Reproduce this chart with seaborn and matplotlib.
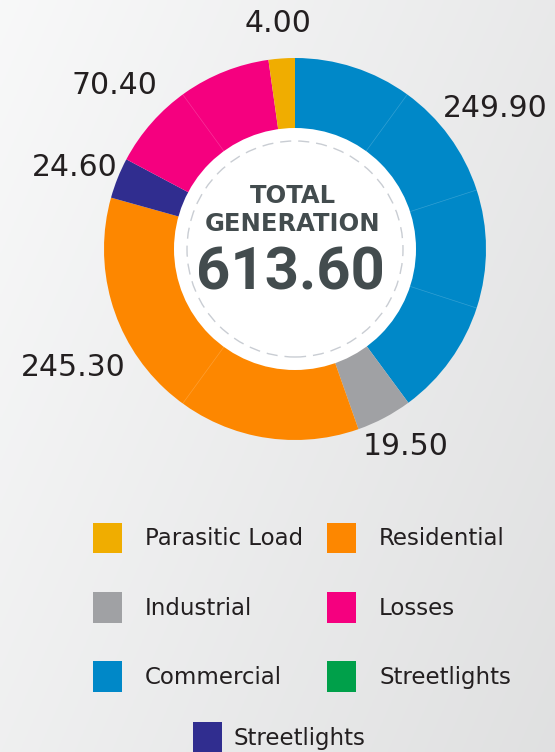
import numpy as np
import pandas as pd
import matplotlib
matplotlib.use("Agg")
import matplotlib.pyplot as plt
import seaborn as sns
from matplotlib.patches import Circle, Patch

# ---------------- data ----------------
categories = ["Commercial", "Industrial", "Residential", "Streetlights", "Losses", "Parasitic Load"]
values = [249.90, 19.50, 245.30, 24.60, 70.40, 4.00]
# arc sizes as drawn in the reference (degrees of the ring)
slice_degrees = [143.6, 17.0, 125.0, 12.4, 54.0, 8.0]
value_labels = ["249.90", "19.50", "245.30", "24.60", "70.40", "4.00"]
center_title = ["TOTAL", "GENERATION"]
total_label = "613.60"
legend_row_labels = ["Parasitic Load", "Industrial", "Commercial", "Residential", "Losses", "Streetlights"]
legend_last_label = "Streetlights"

seg_colors = ["#0088c8", "#a0a1a4", "#fd8700", "#302d8f", "#f5007f", "#f0ad00"]
legend_row_colors = ["#f0ad00", "#a0a1a4", "#0088c8", "#fd8700", "#f5007f", "#00a04a"]
legend_last_color = "#302d8f"

# ---------------- style ----------------
sns.set_theme(style="white")
plt.rcParams["font.family"] = ["DejaVu Sans"]

W, H = 555, 752
fig = plt.figure(figsize=(W / 100, H / 100), dpi=100)

# background gradient
bg = fig.add_axes([0, 0, 1, 1])
xx, yy = np.meshgrid(np.linspace(0, 1, 200), np.linspace(0, 1, 200))
val = (248 - 15 * xx - 9 * yy) / 255.0
img = np.dstack([val, val + 0.002, val + 0.004])
bg.imshow(np.clip(img, 0, 1), extent=[0, W, -H, 0], aspect="auto")
bg.set_xlim(0, W); bg.set_ylim(-H, 0)
bg.axis("off")

ax = fig.add_axes([0, 0, 1, 1])
ax.patch.set_alpha(0)

CX, CY = 295, -249
R_OUT, R_IN = 191, 121

df = pd.DataFrame({"category": categories, "value": values,
                   "share": slice_degrees, "color": seg_colors})
wedges, _ = ax.pie(df["share"], colors=df["color"], startangle=90, counterclock=False,
                   center=(CX, CY), radius=R_OUT, normalize=True,
                   wedgeprops=dict(width=R_OUT - R_IN + 3, linewidth=0))

# faint seam lines inside the ring
seam_angles = [54, 18, -18, -126, 126]
for ang in np.deg2rad(seam_angles):
    ax.plot([CX + R_IN * np.cos(ang), CX + R_OUT * np.cos(ang)],
            [CY + R_IN * np.sin(ang), CY + R_OUT * np.sin(ang)],
            color="white", alpha=0.2, lw=0.5, zorder=2)

ax.add_patch(Circle((CX, CY), R_IN, facecolor="white", edgecolor="none", zorder=3))
ax.add_patch(Circle((CX, CY), 108, fill=False, edgecolor="#c9cdd3", lw=1.0,
                    linestyle=(0, (8, 5)), zorder=4))

# value labels (polar placement around the ring)
label_angles = [35.4, -60.5, 207.7, 159.3, 137.6, 94.3]
label_radii = [246, 225, 250, 235, 245, 228]
for txt, a, r in zip(value_labels, label_angles, label_radii):
    t = np.deg2rad(a)
    ax.text(CX + r * np.cos(t), CY + r * np.sin(t) - 2, txt, ha="center", va="center",
            fontsize=21.5, color="#231f20", zorder=5)

# center text
ax.text(CX - 2, CY + 53, center_title[0], ha="center", va="center", fontsize=17.5,
        fontweight="bold", color="#434c4e", zorder=5)
ax.text(CX - 2, CY + 25, center_title[1], ha="center", va="center", fontsize=17.5,
        fontweight="bold", color="#434c4e", zorder=5)
ax.text(CX - 5, CY - 24, total_label, ha="center", va="center", fontsize=43,
        fontweight="bold", color="#434c4e", family=["Roboto", "DejaVu Sans"], zorder=5)

ax.set_xlim(0, W)
ax.set_ylim(-H, 0)
ax.set_aspect("auto")
ax.axis("off")

# legends
FS = 16.5
handles = [Patch(facecolor=c, edgecolor="none") for c in legend_row_colors]
leg1 = fig.legend(handles, legend_row_labels, ncol=2, loc="upper left",
                  bbox_to_anchor=(93 / W, 1 - 522.5 / H), frameon=False,
                  fontsize=FS, handlelength=1.27, handleheight=1.7,
                  handletextpad=1.0, labelspacing=1.68, columnspacing=1.05,
                  borderpad=0, borderaxespad=0, labelcolor="#231f20")
leg2 = fig.legend([Patch(facecolor=legend_last_color, edgecolor="none")], [legend_last_label],
                  loc="upper left", bbox_to_anchor=(193 / W, 1 - 722 / H), frameon=False,
                  fontsize=FS, handlelength=1.27, handleheight=1.7,
                  handletextpad=0.48, borderpad=0, borderaxespad=0, labelcolor="#231f20")

fig.savefig("out.png", dpi=100)
